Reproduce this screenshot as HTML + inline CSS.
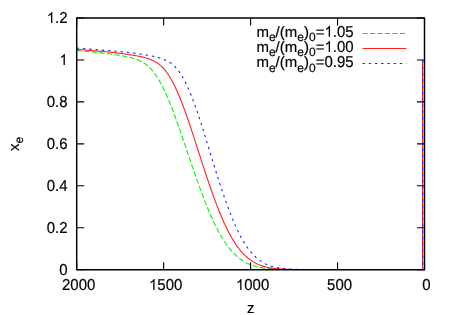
<!DOCTYPE html><html><head><meta charset="utf-8"><style>html,body{margin:0;padding:0;background:#fff}svg{display:block;will-change:transform}text{font-family:"Liberation Sans",sans-serif;fill:#000;text-rendering:geometricPrecision}</style></head><body>
<svg width="450" height="315" viewBox="0 0 450 315">
<clipPath id="c"><rect x="76.7" y="18" width="347.8" height="251.7"/></clipPath>
<g fill="none" stroke-width="1.1" clip-path="url(#c)">
<path d="M76.70,50.69 L77.57,50.76 L78.43,50.83 L79.30,50.90 L80.16,50.96 L81.03,51.03 L81.90,51.10 L82.76,51.17 L83.63,51.24 L84.49,51.31 L85.36,51.39 L86.23,51.46 L87.09,51.53 L87.96,51.61 L88.82,51.68 L89.69,51.76 L90.56,51.84 L91.42,51.92 L92.29,52.00 L93.15,52.08 L94.02,52.17 L94.88,52.25 L95.75,52.34 L96.62,52.42 L97.48,52.51 L98.35,52.60 L99.21,52.70 L100.08,52.79 L100.95,52.89 L101.81,52.99 L102.68,53.09 L103.54,53.19 L104.41,53.29 L105.28,53.40 L106.14,53.51 L107.01,53.61 L107.87,53.73 L108.74,53.84 L109.61,53.95 L110.47,54.07 L111.34,54.19 L112.20,54.31 L113.07,54.43 L113.94,54.56 L114.80,54.68 L115.67,54.81 L116.53,54.94 L117.40,55.06 L118.27,55.20 L119.13,55.33 L120.00,55.46 L120.86,55.60 L121.73,55.74 L122.60,55.89 L123.46,56.04 L124.33,56.20 L125.19,56.37 L126.06,56.54 L126.93,56.72 L127.79,56.92 L128.66,57.12 L129.52,57.33 L130.39,57.55 L131.25,57.78 L132.12,58.03 L132.99,58.28 L133.85,58.55 L134.72,58.84 L135.58,59.14 L136.45,59.45 L137.32,59.77 L138.18,60.12 L139.05,60.47 L139.91,60.85 L140.78,61.26 L141.65,61.69 L142.51,62.15 L143.38,62.64 L144.24,63.18 L145.11,63.75 L145.98,64.37 L146.84,65.04 L147.71,65.76 L148.57,66.53 L149.44,67.36 L150.31,68.24 L151.17,69.17 L152.04,70.16 L152.90,71.20 L153.77,72.30 L154.64,73.46 L155.50,74.67 L156.37,75.94 L157.23,77.27 L158.10,78.66 L158.97,80.11 L159.83,81.62 L160.70,83.18 L161.56,84.81 L162.43,86.48 L163.30,88.21 L164.16,90.00 L165.03,91.83 L165.89,93.72 L166.76,95.66 L167.62,97.65 L168.49,99.69 L169.36,101.77 L170.22,103.90 L171.09,106.07 L171.95,108.28 L172.82,110.54 L173.69,112.82 L174.55,115.15 L175.42,117.50 L176.28,119.88 L177.15,122.29 L178.02,124.73 L178.88,127.19 L179.75,129.67 L180.61,132.17 L181.48,134.68 L182.35,137.20 L183.21,139.74 L184.08,142.29 L184.94,144.84 L185.81,147.40 L186.68,149.96 L187.54,152.52 L188.41,155.08 L189.27,157.63 L190.14,160.18 L191.01,162.72 L191.87,165.25 L192.74,167.78 L193.60,170.29 L194.47,172.79 L195.34,175.28 L196.20,177.74 L197.07,180.20 L197.93,182.63 L198.80,185.04 L199.67,187.43 L200.53,189.80 L201.40,192.14 L202.26,194.45 L203.13,196.74 L203.99,199.00 L204.86,201.22 L205.73,203.41 L206.59,205.57 L207.46,207.70 L208.32,209.79 L209.19,211.84 L210.06,213.86 L210.92,215.84 L211.79,217.78 L212.65,219.68 L213.52,221.55 L214.39,223.38 L215.25,225.16 L216.12,226.91 L216.98,228.62 L217.85,230.28 L218.72,231.90 L219.58,233.48 L220.45,235.02 L221.31,236.52 L222.18,237.97 L223.05,239.37 L223.91,240.73 L224.78,242.04 L225.64,243.31 L226.51,244.54 L227.38,245.72 L228.24,246.87 L229.11,247.97 L229.97,249.03 L230.84,250.05 L231.71,251.03 L232.57,251.98 L233.44,252.89 L234.30,253.76 L235.17,254.60 L236.03,255.41 L236.90,256.18 L237.77,256.92 L238.63,257.63 L239.50,258.31 L240.36,258.96 L241.23,259.58 L242.10,260.17 L242.96,260.74 L243.83,261.28 L244.69,261.79 L245.56,262.28 L246.43,262.75 L247.29,263.19 L248.16,263.61 L249.02,264.01 L249.89,264.38 L250.76,264.74 L251.62,265.07 L252.49,265.39 L253.35,265.68 L254.22,265.96 L255.09,266.22 L255.95,266.46 L256.82,266.69 L257.68,266.90 L258.55,267.10 L259.42,267.28 L260.28,267.45 L261.15,267.60 L262.01,267.74 L262.88,267.88 L263.75,268.00 L264.61,268.11 L265.48,268.21 L266.34,268.31 L267.21,268.40 L268.08,268.48 L268.94,268.55 L269.81,268.62 L270.67,268.69 L271.54,268.75 L272.40,268.81 L273.27,268.86 L274.14,268.91 L275.00,268.96 L275.87,269.01 L276.73,269.06 L277.60,269.11 L278.47,269.17 L279.33,269.22 L280.20,269.27 L281.06,269.32 L281.93,269.36 L282.80,269.40 L283.66,269.44 L284.53,269.48 L285.39,269.51 L286.26,269.54 L287.13,269.57 L287.99,269.60 L288.86,269.63 L289.72,269.65 L290.59,269.67 L291.46,269.69 L292.32,269.71 L293.19,269.72 L294.05,269.73 L294.92,269.74 L295.79,269.75 L296.65,269.75 L297.52,269.75 L298.38,269.75 L299.25,269.75 L300.12,269.75 L300.98,269.75 L301.85,269.75 L302.71,269.75 L303.58,269.75 L304.45,269.75 L305.31,269.75 L306.18,269.75 L307.04,269.75 L307.91,269.75 L308.77,269.75 L309.64,269.75 L310.51,269.75 L311.37,269.75 L312.24,269.75 L313.10,269.75 L313.97,269.75 L314.84,269.75 L315.70,269.75 L316.57,269.75 L317.43,269.75 L318.30,269.75 L319.17,269.75 L320.03,269.75 L320.90,269.75 L321.76,269.75 L322.63,269.75 L323.50,269.75 L324.36,269.75 L325.23,269.75 L326.09,269.75 L326.96,269.75 L327.83,269.75 L328.69,269.75 L329.56,269.75 L330.42,269.75 L331.29,269.75 L332.16,269.75 L333.02,269.75 L333.89,269.75 L334.75,269.75 L335.62,269.75 L336.49,269.75 L337.35,269.75 L338.22,269.75 L339.08,269.75 L339.95,269.75 L340.82,269.75 L341.68,269.75 L342.55,269.75 L343.41,269.75 L344.28,269.75 L345.14,269.75 L346.01,269.75 L346.88,269.75 L347.74,269.75 L348.61,269.75 L349.47,269.75 L350.34,269.75 L351.21,269.75 L352.07,269.75 L352.94,269.75 L353.80,269.75 L354.67,269.75 L355.54,269.75 L356.40,269.75 L357.27,269.75 L358.13,269.75 L359.00,269.75 L359.87,269.75 L360.73,269.75 L361.60,269.75 L362.46,269.75 L363.33,269.75 L364.20,269.75 L365.06,269.75 L365.93,269.75 L366.79,269.75 L367.66,269.75 L368.53,269.75 L369.39,269.75 L370.26,269.75 L371.12,269.75 L371.99,269.75 L372.86,269.75 L373.72,269.75 L374.59,269.75 L375.45,269.75 L376.32,269.75 L377.18,269.75 L378.05,269.75 L378.92,269.75 L379.78,269.75 L380.65,269.75 L381.51,269.75 L382.38,269.75 L383.25,269.75 L384.11,269.75 L384.98,269.75 L385.84,269.75 L386.71,269.75 L387.58,269.75 L388.44,269.75 L389.31,269.75 L390.17,269.75 L391.04,269.75 L391.91,269.75 L392.77,269.75 L393.64,269.75 L394.50,269.75 L395.37,269.75 L396.24,269.75 L397.10,269.75 L397.97,269.75 L398.83,269.75 L399.70,269.75 L400.57,269.75 L401.43,269.75 L402.30,269.75 L403.16,269.75 L404.03,269.75 L404.90,269.75 L405.76,269.75 L406.63,269.75 L407.49,269.75 L408.36,269.75 L409.23,269.75 L410.09,269.75 L410.96,269.75 L411.82,269.75 L412.69,269.75 L413.55,269.75 L414.42,269.75 L415.29,269.75 L416.15,269.75 L417.02,269.75 L417.88,269.75 L418.75,269.75 L419.62,269.75 L420.48,269.75 L421.35,269.75 L422.21,269.75 L422.60,269.75 L422.60,59.90" stroke="#10ee10" stroke-dasharray="5.3 2.3"/>
<path d="M76.70,49.42 L77.57,49.48 L78.43,49.55 L79.30,49.61 L80.16,49.68 L81.03,49.74 L81.90,49.81 L82.76,49.87 L83.63,49.94 L84.49,50.00 L85.36,50.07 L86.23,50.14 L87.09,50.20 L87.96,50.27 L88.82,50.34 L89.69,50.41 L90.56,50.48 L91.42,50.55 L92.29,50.62 L93.15,50.69 L94.02,50.76 L94.88,50.83 L95.75,50.90 L96.62,50.97 L97.48,51.04 L98.35,51.11 L99.21,51.19 L100.08,51.26 L100.95,51.34 L101.81,51.41 L102.68,51.49 L103.54,51.57 L104.41,51.65 L105.28,51.73 L106.14,51.81 L107.01,51.89 L107.87,51.98 L108.74,52.06 L109.61,52.15 L110.47,52.24 L111.34,52.33 L112.20,52.42 L113.07,52.52 L113.94,52.61 L114.80,52.71 L115.67,52.81 L116.53,52.91 L117.40,53.01 L118.27,53.12 L119.13,53.23 L120.00,53.34 L120.86,53.45 L121.73,53.56 L122.60,53.68 L123.46,53.80 L124.33,53.92 L125.19,54.04 L126.06,54.16 L126.93,54.29 L127.79,54.42 L128.66,54.55 L129.52,54.68 L130.39,54.81 L131.25,54.95 L132.12,55.08 L132.99,55.22 L133.85,55.36 L134.72,55.50 L135.58,55.65 L136.45,55.80 L137.32,55.96 L138.18,56.12 L139.05,56.29 L139.91,56.47 L140.78,56.66 L141.65,56.85 L142.51,57.06 L143.38,57.28 L144.24,57.51 L145.11,57.75 L145.98,58.01 L146.84,58.28 L147.71,58.56 L148.57,58.86 L149.44,59.18 L150.31,59.50 L151.17,59.85 L152.04,60.21 L152.90,60.60 L153.77,61.00 L154.64,61.44 L155.50,61.90 L156.37,62.41 L157.23,62.95 L158.10,63.53 L158.97,64.17 L159.83,64.85 L160.70,65.60 L161.56,66.40 L162.43,67.25 L163.30,68.17 L164.16,69.15 L165.03,70.19 L165.89,71.29 L166.76,72.45 L167.62,73.67 L168.49,74.96 L169.36,76.31 L170.22,77.72 L171.09,79.21 L171.95,80.75 L172.82,82.36 L173.69,84.04 L174.55,85.77 L175.42,87.57 L176.28,89.42 L177.15,91.33 L178.02,93.30 L178.88,95.33 L179.75,97.41 L180.61,99.54 L181.48,101.73 L182.35,103.96 L183.21,106.25 L184.08,108.57 L184.94,110.94 L185.81,113.35 L186.68,115.80 L187.54,118.28 L188.41,120.80 L189.27,123.34 L190.14,125.91 L191.01,128.50 L191.87,131.11 L192.74,133.75 L193.60,136.39 L194.47,139.05 L195.34,141.73 L196.20,144.41 L197.07,147.09 L197.93,149.78 L198.80,152.47 L199.67,155.15 L200.53,157.83 L201.40,160.51 L202.26,163.18 L203.13,165.83 L203.99,168.48 L204.86,171.12 L205.73,173.74 L206.59,176.34 L207.46,178.92 L208.32,181.49 L209.19,184.03 L210.06,186.55 L210.92,189.04 L211.79,191.51 L212.65,193.95 L213.52,196.35 L214.39,198.73 L215.25,201.07 L216.12,203.37 L216.98,205.64 L217.85,207.86 L218.72,210.05 L219.58,212.20 L220.45,214.31 L221.31,216.38 L222.18,218.41 L223.05,220.39 L223.91,222.34 L224.78,224.24 L225.64,226.09 L226.51,227.90 L227.38,229.67 L228.24,231.39 L229.11,233.06 L229.97,234.69 L230.84,236.26 L231.71,237.79 L232.57,239.27 L233.44,240.70 L234.30,242.08 L235.17,243.41 L236.03,244.70 L236.90,245.93 L237.77,247.12 L238.63,248.27 L239.50,249.37 L240.36,250.43 L241.23,251.44 L242.10,252.42 L242.96,253.36 L243.83,254.25 L244.69,255.11 L245.56,255.94 L246.43,256.72 L247.29,257.48 L248.16,258.20 L249.02,258.88 L249.89,259.54 L250.76,260.16 L251.62,260.76 L252.49,261.32 L253.35,261.86 L254.22,262.37 L255.09,262.85 L255.95,263.31 L256.82,263.74 L257.68,264.15 L258.55,264.54 L259.42,264.90 L260.28,265.24 L261.15,265.56 L262.01,265.86 L262.88,266.14 L263.75,266.40 L264.61,266.64 L265.48,266.86 L266.34,267.07 L267.21,267.26 L268.08,267.44 L268.94,267.61 L269.81,267.76 L270.67,267.89 L271.54,268.02 L272.40,268.14 L273.27,268.24 L274.14,268.34 L275.00,268.43 L275.87,268.51 L276.73,268.59 L277.60,268.66 L278.47,268.72 L279.33,268.79 L280.20,268.84 L281.06,268.90 L281.93,268.95 L282.80,269.00 L283.66,269.06 L284.53,269.11 L285.39,269.17 L286.26,269.22 L287.13,269.27 L287.99,269.32 L288.86,269.37 L289.72,269.41 L290.59,269.45 L291.46,269.49 L292.32,269.52 L293.19,269.56 L294.05,269.59 L294.92,269.61 L295.79,269.64 L296.65,269.66 L297.52,269.69 L298.38,269.70 L299.25,269.72 L300.12,269.73 L300.98,269.74 L301.85,269.75 L302.71,269.75 L303.58,269.75 L304.45,269.75 L305.31,269.75 L306.18,269.75 L307.04,269.75 L307.91,269.75 L308.77,269.75 L309.64,269.75 L310.51,269.75 L311.37,269.75 L312.24,269.75 L313.10,269.75 L313.97,269.75 L314.84,269.75 L315.70,269.75 L316.57,269.75 L317.43,269.75 L318.30,269.75 L319.17,269.75 L320.03,269.75 L320.90,269.75 L321.76,269.75 L322.63,269.75 L323.50,269.75 L324.36,269.75 L325.23,269.75 L326.09,269.75 L326.96,269.75 L327.83,269.75 L328.69,269.75 L329.56,269.75 L330.42,269.75 L331.29,269.75 L332.16,269.75 L333.02,269.75 L333.89,269.75 L334.75,269.75 L335.62,269.75 L336.49,269.75 L337.35,269.75 L338.22,269.75 L339.08,269.75 L339.95,269.75 L340.82,269.75 L341.68,269.75 L342.55,269.75 L343.41,269.75 L344.28,269.75 L345.14,269.75 L346.01,269.75 L346.88,269.75 L347.74,269.75 L348.61,269.75 L349.47,269.75 L350.34,269.75 L351.21,269.75 L352.07,269.75 L352.94,269.75 L353.80,269.75 L354.67,269.75 L355.54,269.75 L356.40,269.75 L357.27,269.75 L358.13,269.75 L359.00,269.75 L359.87,269.75 L360.73,269.75 L361.60,269.75 L362.46,269.75 L363.33,269.75 L364.20,269.75 L365.06,269.75 L365.93,269.75 L366.79,269.75 L367.66,269.75 L368.53,269.75 L369.39,269.75 L370.26,269.75 L371.12,269.75 L371.99,269.75 L372.86,269.75 L373.72,269.75 L374.59,269.75 L375.45,269.75 L376.32,269.75 L377.18,269.75 L378.05,269.75 L378.92,269.75 L379.78,269.75 L380.65,269.75 L381.51,269.75 L382.38,269.75 L383.25,269.75 L384.11,269.75 L384.98,269.75 L385.84,269.75 L386.71,269.75 L387.58,269.75 L388.44,269.75 L389.31,269.75 L390.17,269.75 L391.04,269.75 L391.91,269.75 L392.77,269.75 L393.64,269.75 L394.50,269.75 L395.37,269.75 L396.24,269.75 L397.10,269.75 L397.97,269.75 L398.83,269.75 L399.70,269.75 L400.57,269.75 L401.43,269.75 L402.30,269.75 L403.16,269.75 L404.03,269.75 L404.90,269.75 L405.76,269.75 L406.63,269.75 L407.49,269.75 L408.36,269.75 L409.23,269.75 L410.09,269.75 L410.96,269.75 L411.82,269.75 L412.69,269.75 L413.55,269.75 L414.42,269.75 L415.29,269.75 L416.15,269.75 L417.02,269.75 L417.88,269.75 L418.75,269.75 L419.62,269.75 L420.48,269.75 L421.35,269.75 L422.21,269.75 L422.60,269.75 L422.60,59.90" stroke="#ff2222"/>
<path d="M76.70,48.12 L77.57,48.19 L78.43,48.25 L79.30,48.31 L80.16,48.38 L81.03,48.44 L81.90,48.50 L82.76,48.57 L83.63,48.63 L84.49,48.69 L85.36,48.76 L86.23,48.82 L87.09,48.89 L87.96,48.95 L88.82,49.02 L89.69,49.08 L90.56,49.15 L91.42,49.21 L92.29,49.28 L93.15,49.35 L94.02,49.41 L94.88,49.48 L95.75,49.55 L96.62,49.62 L97.48,49.69 L98.35,49.75 L99.21,49.82 L100.08,49.89 L100.95,49.96 L101.81,50.03 L102.68,50.10 L103.54,50.17 L104.41,50.24 L105.28,50.31 L106.14,50.39 L107.01,50.46 L107.87,50.53 L108.74,50.60 L109.61,50.68 L110.47,50.75 L111.34,50.82 L112.20,50.90 L113.07,50.98 L113.94,51.05 L114.80,51.13 L115.67,51.21 L116.53,51.28 L117.40,51.36 L118.27,51.44 L119.13,51.53 L120.00,51.61 L120.86,51.69 L121.73,51.78 L122.60,51.87 L123.46,51.95 L124.33,52.04 L125.19,52.14 L126.06,52.23 L126.93,52.32 L127.79,52.42 L128.66,52.52 L129.52,52.62 L130.39,52.72 L131.25,52.83 L132.12,52.93 L132.99,53.04 L133.85,53.16 L134.72,53.27 L135.58,53.39 L136.45,53.51 L137.32,53.63 L138.18,53.75 L139.05,53.88 L139.91,54.00 L140.78,54.14 L141.65,54.27 L142.51,54.40 L143.38,54.54 L144.24,54.68 L145.11,54.81 L145.98,54.96 L146.84,55.10 L147.71,55.25 L148.57,55.39 L149.44,55.54 L150.31,55.70 L151.17,55.86 L152.04,56.03 L152.90,56.21 L153.77,56.39 L154.64,56.58 L155.50,56.79 L156.37,57.00 L157.23,57.23 L158.10,57.47 L158.97,57.72 L159.83,57.99 L160.70,58.27 L161.56,58.57 L162.43,58.89 L163.30,59.22 L164.16,59.57 L165.03,59.94 L165.89,60.32 L166.76,60.73 L167.62,61.17 L168.49,61.64 L169.36,62.15 L170.22,62.70 L171.09,63.30 L171.95,63.95 L172.82,64.65 L173.69,65.42 L174.55,66.25 L175.42,67.14 L176.28,68.10 L177.15,69.13 L178.02,70.22 L178.88,71.38 L179.75,72.61 L180.61,73.91 L181.48,75.28 L182.35,76.72 L183.21,78.23 L184.08,79.82 L184.94,81.47 L185.81,83.20 L186.68,85.00 L187.54,86.86 L188.41,88.79 L189.27,90.78 L190.14,92.84 L191.01,94.96 L191.87,97.14 L192.74,99.38 L193.60,101.68 L194.47,104.03 L195.34,106.44 L196.20,108.89 L197.07,111.40 L197.93,113.94 L198.80,116.53 L199.67,119.15 L200.53,121.81 L201.40,124.50 L202.26,127.21 L203.13,129.95 L203.99,132.72 L204.86,135.50 L205.73,138.30 L206.59,141.11 L207.46,143.92 L208.32,146.75 L209.19,149.58 L210.06,152.41 L210.92,155.23 L211.79,158.06 L212.65,160.87 L213.52,163.68 L214.39,166.47 L215.25,169.26 L216.12,172.03 L216.98,174.78 L217.85,177.51 L218.72,180.22 L219.58,182.91 L220.45,185.57 L221.31,188.20 L222.18,190.81 L223.05,193.38 L223.91,195.92 L224.78,198.43 L225.64,200.89 L226.51,203.32 L227.38,205.71 L228.24,208.05 L229.11,210.35 L229.97,212.61 L230.84,214.82 L231.71,216.98 L232.57,219.10 L233.44,221.18 L234.30,223.20 L235.17,225.18 L236.03,227.11 L236.90,228.99 L237.77,230.81 L238.63,232.59 L239.50,234.31 L240.36,235.98 L241.23,237.60 L242.10,239.16 L242.96,240.67 L243.83,242.12 L244.69,243.52 L245.56,244.87 L246.43,246.16 L247.29,247.40 L248.16,248.60 L249.02,249.74 L249.89,250.84 L250.76,251.89 L251.62,252.90 L252.49,253.86 L253.35,254.78 L254.22,255.66 L255.09,256.50 L255.95,257.30 L256.82,258.07 L257.68,258.80 L258.55,259.49 L259.42,260.15 L260.28,260.77 L261.15,261.37 L262.01,261.93 L262.88,262.46 L263.75,262.97 L264.61,263.44 L265.48,263.89 L266.34,264.31 L267.21,264.71 L268.08,265.08 L268.94,265.42 L269.81,265.75 L270.67,266.05 L271.54,266.33 L272.40,266.59 L273.27,266.83 L274.14,267.05 L275.00,267.25 L275.87,267.44 L276.73,267.61 L277.60,267.77 L278.47,267.91 L279.33,268.04 L280.20,268.16 L281.06,268.27 L281.93,268.37 L282.80,268.46 L283.66,268.55 L284.53,268.62 L285.39,268.69 L286.26,268.76 L287.13,268.82 L287.99,268.88 L288.86,268.94 L289.72,268.99 L290.59,269.05 L291.46,269.11 L292.32,269.16 L293.19,269.22 L294.05,269.28 L294.92,269.33 L295.79,269.38 L296.65,269.42 L297.52,269.46 L298.38,269.50 L299.25,269.54 L300.12,269.57 L300.98,269.60 L301.85,269.63 L302.71,269.65 L303.58,269.68 L304.45,269.70 L305.31,269.72 L306.18,269.73 L307.04,269.74 L307.91,269.75 L308.77,269.75 L309.64,269.75 L310.51,269.75 L311.37,269.75 L312.24,269.75 L313.10,269.75 L313.97,269.75 L314.84,269.75 L315.70,269.75 L316.57,269.75 L317.43,269.75 L318.30,269.75 L319.17,269.75 L320.03,269.75 L320.90,269.75 L321.76,269.75 L322.63,269.75 L323.50,269.75 L324.36,269.75 L325.23,269.75 L326.09,269.75 L326.96,269.75 L327.83,269.75 L328.69,269.75 L329.56,269.75 L330.42,269.75 L331.29,269.75 L332.16,269.75 L333.02,269.75 L333.89,269.75 L334.75,269.75 L335.62,269.75 L336.49,269.75 L337.35,269.75 L338.22,269.75 L339.08,269.75 L339.95,269.75 L340.82,269.75 L341.68,269.75 L342.55,269.75 L343.41,269.75 L344.28,269.75 L345.14,269.75 L346.01,269.75 L346.88,269.75 L347.74,269.75 L348.61,269.75 L349.47,269.75 L350.34,269.75 L351.21,269.75 L352.07,269.75 L352.94,269.75 L353.80,269.75 L354.67,269.75 L355.54,269.75 L356.40,269.75 L357.27,269.75 L358.13,269.75 L359.00,269.75 L359.87,269.75 L360.73,269.75 L361.60,269.75 L362.46,269.75 L363.33,269.75 L364.20,269.75 L365.06,269.75 L365.93,269.75 L366.79,269.75 L367.66,269.75 L368.53,269.75 L369.39,269.75 L370.26,269.75 L371.12,269.75 L371.99,269.75 L372.86,269.75 L373.72,269.75 L374.59,269.75 L375.45,269.75 L376.32,269.75 L377.18,269.75 L378.05,269.75 L378.92,269.75 L379.78,269.75 L380.65,269.75 L381.51,269.75 L382.38,269.75 L383.25,269.75 L384.11,269.75 L384.98,269.75 L385.84,269.75 L386.71,269.75 L387.58,269.75 L388.44,269.75 L389.31,269.75 L390.17,269.75 L391.04,269.75 L391.91,269.75 L392.77,269.75 L393.64,269.75 L394.50,269.75 L395.37,269.75 L396.24,269.75 L397.10,269.75 L397.97,269.75 L398.83,269.75 L399.70,269.75 L400.57,269.75 L401.43,269.75 L402.30,269.75 L403.16,269.75 L404.03,269.75 L404.90,269.75 L405.76,269.75 L406.63,269.75 L407.49,269.75 L408.36,269.75 L409.23,269.75 L410.09,269.75 L410.96,269.75 L411.82,269.75 L412.69,269.75 L413.55,269.75 L414.42,269.75 L415.29,269.75 L416.15,269.75 L417.02,269.75 L417.88,269.75 L418.75,269.75 L419.62,269.75 L420.48,269.75 L421.35,269.75 L422.21,269.75 L422.60,269.75 L422.60,59.90" stroke="#2222ff" stroke-dasharray="2.4 3.9"/>
</g>
<g fill="none" stroke-width="1.05">
<path d="M362.5,33.5H406.4" stroke="#10ee10" stroke-dasharray="5.2 2.26"/>
<path d="M362.5,48.5H406.5" stroke="#ff2222"/>
<path d="M362.5,63.5H406.4" stroke="#2222ff" stroke-dasharray="2.4 3.82"/>
</g>
<g fill="none" stroke="#000" stroke-width="1.45" stroke-linejoin="round">
<rect x="76.7" y="18.0" width="347.8" height="251.7"/>
<path stroke-width="1.1" d="M76.70,269.70v-7.5M76.70,18.00v7.5M163.65,269.70v-7.5M163.65,18.00v7.5M250.60,269.70v-7.5M250.60,18.00v7.5M337.55,269.70v-7.5M337.55,18.00v7.5M424.50,269.70v-7.5M424.50,18.00v7.5M76.70,269.70h7.5M424.50,269.70h-7.5M76.70,227.75h7.5M424.50,227.75h-7.5M76.70,185.80h7.5M424.50,185.80h-7.5M76.70,143.85h7.5M424.50,143.85h-7.5M76.70,101.90h7.5M424.50,101.90h-7.5M76.70,59.95h7.5M424.50,59.95h-7.5M76.70,18.00h7.5M424.50,18.00h-7.5"/>
</g>
<g font-size="15.0" stroke="#000" stroke-width="0.18">
<text transform="translate(62.02,290.10) scale(1,1.055)">2000</text>
<path d="M763 0H583V1147Q518 1085 412.5 1023T223 930V1104Q374 1175 487 1276T647 1472H763Z" transform="translate(148.97,290.10) scale(0.007324,-0.007471)"/><text transform="translate(157.31,290.10) scale(1,1.055)">500</text>
<path d="M763 0H583V1147Q518 1085 412.5 1023T223 930V1104Q374 1175 487 1276T647 1472H763Z" transform="translate(235.92,290.10) scale(0.007324,-0.007471)"/><text transform="translate(244.26,290.10) scale(1,1.055)">000</text>
<text transform="translate(327.04,290.10) scale(1,1.055)">500</text>
<text transform="translate(422.33,290.10) scale(1,1.055)">0</text>
<text transform="translate(59.26,274.75) scale(1,1.055)">0</text>
<text transform="translate(46.75,232.80) scale(1,1.055)">0.2</text>
<text transform="translate(46.75,190.85) scale(1,1.055)">0.4</text>
<text transform="translate(46.75,148.90) scale(1,1.055)">0.6</text>
<text transform="translate(46.75,106.95) scale(1,1.055)">0.8</text>
<path d="M763 0H583V1147Q518 1085 412.5 1023T223 930V1104Q374 1175 487 1276T647 1472H763Z" transform="translate(59.26,65.00) scale(0.007324,-0.007471)"/>
<path d="M763 0H583V1147Q518 1085 412.5 1023T223 930V1104Q374 1175 487 1276T647 1472H763Z" transform="translate(46.75,23.05) scale(0.007324,-0.007471)"/><text transform="translate(55.09,23.05) scale(1,1.055)">.2</text>
<text x="247" y="312.5">z</text>
<text transform="translate(18.7,151) rotate(-90)">x<tspan dy="4.6" font-size="12.0">e</tspan></text>
<text x="324.41" y="36.8" text-anchor="end">m<tspan dy="4.5" font-size="12.0">e</tspan><tspan dy="-4.5">/(m</tspan><tspan dy="4.5" font-size="12.0">e</tspan><tspan dy="-4.5">)</tspan><tspan dy="4.5" font-size="12.0">0</tspan><tspan dy="-4.5">=</tspan></text><path d="M763 0H583V1147Q518 1085 412.5 1023T223 930V1104Q374 1175 487 1276T647 1472H763Z" transform="translate(324.41,36.80) scale(0.007324,-0.007471)"/><text transform="translate(332.75,36.80) scale(1,1.055)">.05</text>
<text x="324.41" y="51.9" text-anchor="end">m<tspan dy="4.5" font-size="12.0">e</tspan><tspan dy="-4.5">/(m</tspan><tspan dy="4.5" font-size="12.0">e</tspan><tspan dy="-4.5">)</tspan><tspan dy="4.5" font-size="12.0">0</tspan><tspan dy="-4.5">=</tspan></text><path d="M763 0H583V1147Q518 1085 412.5 1023T223 930V1104Q374 1175 487 1276T647 1472H763Z" transform="translate(324.41,51.90) scale(0.007324,-0.007471)"/><text transform="translate(332.75,51.90) scale(1,1.055)">.00</text>
<text x="324.41" y="67.0" text-anchor="end">m<tspan dy="4.5" font-size="12.0">e</tspan><tspan dy="-4.5">/(m</tspan><tspan dy="4.5" font-size="12.0">e</tspan><tspan dy="-4.5">)</tspan><tspan dy="4.5" font-size="12.0">0</tspan><tspan dy="-4.5">=</tspan></text><text transform="translate(324.41,67.00) scale(1,1.055)">0.95</text>
</g></svg></body></html>
